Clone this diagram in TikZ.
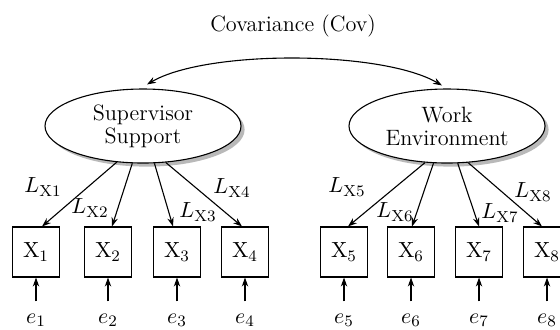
\documentclass[tikz,border=0pt]{standalone}
\usepackage{tikz}
\usetikzlibrary{arrows.meta,shapes.geometric,shadows}

\begin{document}
\begin{tikzpicture}[x=0.5pt, y=-0.5pt, >={Stealth[length=4.5pt,width=3.2pt]}, line width=0.55pt,
    every node/.style={font=\fontsize{11.1}{11.5}\selectfont},
    factor/.style={ellipse, draw, fill=white, minimum width=98pt, minimum height=37pt,
        inner sep=0pt, align=center,
        drop shadow={shadow xshift=1.8pt, shadow yshift=-1.8pt, fill=black!55}},
    item/.style={draw, fill=white, minimum width=23.5pt, minimum height=25pt, inner sep=0pt}]
    % frame of the picture
    \useasboundingbox (0,0) rectangle (560,329);
    
    % covariance between the two factors
    \node (cov) at (293,26) {Covariance (Cov)};
    \node[factor] (ss) at (143,126) {Supervisor\\Support};
    \node[factor] (we) at (447,126) {Work\\Environment};
    \draw[<->] ([shift={(4,-4)}]ss.north) .. controls +(60,-35) and +(-60,-35) .. ([shift={(-5,-3)}]we.north);
    
    % observed items and their errors
    \foreach \n/\x in {1/36, 2/108, 3/177, 4/245, 5/344, 6/411, 7/479, 8/547} {
        \node[item] (x\n) at (\x,252) {$\mathrm{X}_\n$};
        \node (e\n) at (\x,320) {$e_\n$};
        \draw[->] ([yshift=2.5pt]e\n.north) -- (x\n.south);
    }
    
    % loadings
    \foreach \a/\n/\dx in {-126/1/3, -106.6/2/2, -73.4/3/-2, -58.6/4/-1.5} {
        \draw[->] (ss.\a) -- ([xshift=\dx pt]x\n.north);
    }
    \foreach \a/\n/\dx in {-121.4/5/2, -110.8/6/0.5, -74.9/7/0, -60/8/-2.5} {
        \draw[->] (we.\a) -- ([xshift=\dx pt]x\n.north);
    }
    
    % loading labels
    \node (l1) at (43,187) {$L_{\mathrm{X1}}$};
    \node (l2) at (90,208) {$L_{\mathrm{X2}}$};
    \node (l3) at (198,212) {$L_{\mathrm{X3}}$};
    \node (l4) at (232,188) {$L_{\mathrm{X4}}$};
    \node (l5) at (347,187) {$L_{\mathrm{X5}}$};
    \node (l6) at (395,212) {$L_{\mathrm{X6}}$};
    \node (l7) at (500,213) {$L_{\mathrm{X7}}$};
    \node (l8) at (533,192) {$L_{\mathrm{X8}}$};
\end{tikzpicture}
\end{document}
